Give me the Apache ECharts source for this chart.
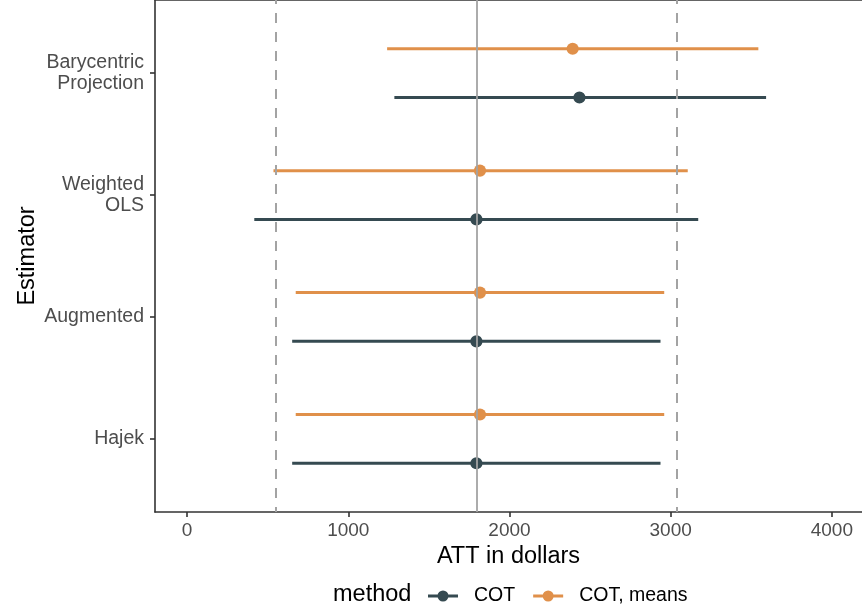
<!DOCTYPE html>
<html>
<head>
<meta charset="utf-8">
<script src="https://cdn.jsdelivr.net/npm/echarts@6/dist/echarts.min.js"></script>
<style>
  html, body { margin: 0; padding: 0; background: #ffffff; }
  #chart { width: 862px; height: 611px; }
</style>
</head>
<body>
<div id="chart"></div>
<script>
// Estimators, top to bottom
const estimators = ['Barycentric\nProjection', 'Weighted\nOLS', 'Augmented', 'Hajek'];

// COT: interval low, point estimate, interval high
const cotLow  = [1286, 417, 652, 652];
const cotEst  = [2434, 1795, 1795, 1795];
const cotHigh = [3592, 3171, 2937, 2937];

// COT, means
const meansLow  = [1241, 536, 674, 674];
const meansEst  = [2392, 1817, 1817, 1817];
const meansHigh = [3544, 3106, 2960, 2960];

// Reference lines: overall estimate and its interval
const refEstimate = 1795;
const refBounds = [551, 3039];

const xTicks = [0, 1000, 2000, 3000, 4000];
const methods = ['COT', 'COT, means'];

const colorCot = '#354a51';
const colorMeans = '#e0904a';
const refColor = '#a3a3a3';
const font = 'Liberation Sans, Arial, Helvetica, sans-serif';

// vertical dodge within each estimator row
const dodge = 0.2;

function rows(low, est, high, offset) {
  return estimators.map((_, i) => [low[i], high[i], est[i], i + 1 + offset]);
}

function renderInterval(params, api) {
  const y = api.value(3);
  const p0 = api.coord([api.value(0), y]);
  const p1 = api.coord([api.value(1), y]);
  const pe = api.coord([api.value(2), y]);
  const color = api.visual('color');
  return {
    type: 'group',
    children: [
      { type: 'line', shape: { x1: p0[0], y1: p0[1], x2: p1[0], y2: p1[1] },
        style: { stroke: color, lineWidth: 3 } },
      { type: 'circle', shape: { cx: pe[0], cy: pe[1], r: 6.1 },
        style: { fill: color } }
    ]
  };
}

const chart = echarts.init(document.getElementById('chart'), null, { renderer: 'canvas' });

const legendIcon = 'path://M0,4.5h30v3h-30z M20.5,6a5.5,5.5 0 1,1 -11,0a5.5,5.5 0 1,1 11,0z';

chart.setOption({
  animation: false,
  color: [colorCot, colorMeans],
  grid: { left: 155, right: 0, top: 0, bottom: 99, containLabel: false },
  xAxis: [{
    type: 'value',
    min: -199,
    max: 4187,
    name: 'ATT in dollars',
    nameLocation: 'middle',
    nameGap: 33,
    nameTextStyle: { color: '#000000', fontSize: 23.5, fontFamily: font },
    axisLine: { show: true, onZero: false, lineStyle: { color: '#333333', width: 1.6 } },
    axisTick: { show: true, length: 5, customValues: xTicks, lineStyle: { color: '#333333', width: 1.6 } },
    axisLabel: {
      customValues: xTicks,
      formatter: v => String(v),
      margin: 9,
      color: '#4d4d4d',
      fontSize: 19,
      fontFamily: font
    },
    splitLine: { show: false }
  }, {
    type: 'value',
    position: 'top',
    min: -199,
    max: 4187,
    axisLine: { show: true, onZero: false, lineStyle: { color: '#333333', width: 1.6 } },
    axisTick: { show: false },
    axisLabel: { show: false },
    splitLine: { show: false }
  }],
  yAxis: {
    type: 'value',
    inverse: true,
    min: 0.4,
    max: 4.6,
    name: 'Estimator',
    nameLocation: 'middle',
    nameGap: 115,
    nameMoveOverlap: false,
    nameRotate: 90,
    nameTextStyle: { color: '#000000', fontSize: 23.5, fontFamily: font },
    axisLine: { show: true, onZero: false, lineStyle: { color: '#333333', width: 1.6 } },
    axisTick: { show: true, length: 5, customValues: [1, 2, 3, 4], lineStyle: { color: '#333333', width: 1.6 } },
    axisLabel: {
      customValues: [1, 2, 3, 4],
      formatter: v => estimators[Math.round(v) - 1],
      margin: 11,
      align: 'right',
      lineHeight: 21,
      color: '#4d4d4d',
      fontSize: 19.5,
      fontFamily: font
    },
    splitLine: { show: false }
  },
  legend: {
    data: methods,
    left: 423,
    top: 581,
    itemWidth: 30,
    itemHeight: 11,
    itemGap: 18,
    icon: legendIcon,
    textStyle: { color: '#000000', fontSize: 19.5, fontFamily: font, padding: [0, 0, 0, 11] }
  },
  graphic: [{
    type: 'text',
    left: 333,
    top: 583,
    style: { text: 'method', fill: '#000000', font: '23.5px ' + font }
  }],
  series: [
    {
      name: 'reference',
      type: 'line',
      data: [],
      z: 1,
      silent: true,
      markLine: {
        silent: true,
        symbol: 'none',
        label: { show: false },
        data: [
          { xAxis: refEstimate, lineStyle: { color: refColor, width: 1.8, type: 'solid' } },
          { xAxis: refBounds[0], lineStyle: { color: refColor, width: 2, type: [10, 9], dashOffset: 6 } },
          { xAxis: refBounds[1], lineStyle: { color: refColor, width: 2, type: [10, 9], dashOffset: 6 } }
        ]
      }
    },
    {
      name: methods[0],
      type: 'custom',
      z: 3,
      itemStyle: { color: colorCot },
      encode: { x: [0, 1, 2], y: 3 },
      renderItem: renderInterval,
      data: rows(cotLow, cotEst, cotHigh, dodge)
    },
    {
      name: methods[1],
      type: 'custom',
      z: 3,
      itemStyle: { color: colorMeans },
      encode: { x: [0, 1, 2], y: 3 },
      renderItem: renderInterval,
      data: rows(meansLow, meansEst, meansHigh, -dodge)
    }
  ]
});
</script>
</body>
</html>
